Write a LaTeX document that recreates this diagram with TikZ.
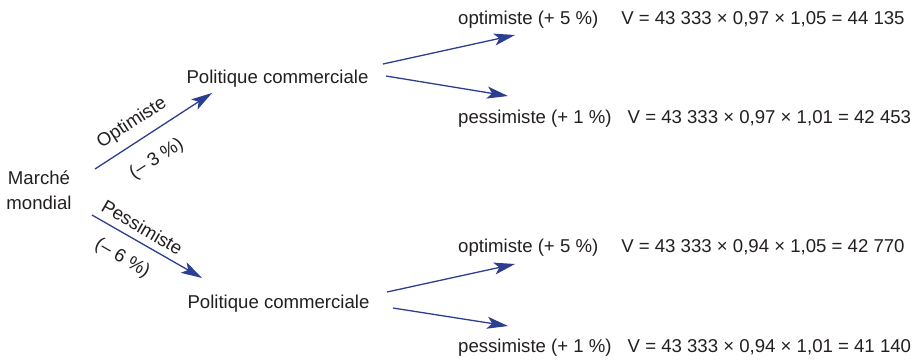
\documentclass[tikz,border=0pt]{standalone}
\usepackage{fontspec}
\setmainfont{Liberation Sans}
\usetikzlibrary{arrows.meta}
\definecolor{arrblue}{RGB}{44,62,145}
\definecolor{txt}{RGB}{35,31,32}
\tikzset{
  lbl/.style={inner sep=0pt, text=txt, font=\fontsize{18.6}{25}\selectfont},
  arr/.style={draw=arrblue, line width=1.3pt, -{Stealth[length=21pt,width=12pt,inset=5pt]}}
}
\begin{document}
\begin{tikzpicture}[x=1pt,y=-1pt]
\useasboundingbox (0,0) rectangle (917,360);
\node[lbl, align=center] (mm) at (39,190) {Marché\\mondial};
\node[lbl, anchor=base] (pol1) at (277.5,83) {Politique commerciale};
\node[lbl, anchor=base] (pol2) at (278.5,308) {Politique commerciale};
\node[lbl, anchor=base west] (o1) at (458,24.6) {optimiste (+ 5 \%)\hspace{23pt}V = 43 333 × 0,97 × 1,05 = 44 135};
\node[lbl, anchor=base west] (p1) at (458,123.6) {pessimiste (+ 1 \%)\hspace{16pt}V = 43 333 × 0,97 × 1,01 = 42 453};
\node[lbl, anchor=base west] (o2) at (458,252) {optimiste (+ 5 \%)\hspace{23pt}V = 43 333 × 0,94 × 1,05 = 42 770};
\node[lbl, anchor=base west] (p2) at (458,352.6) {pessimiste (+ 1 \%)\hspace{16pt}V = 43 333 × 0,94 × 1,01 = 41 140};
\draw[arr] ([shift={(56,-21)}]mm.center) -- ([shift={(-65.5,10)}]pol1.base);
\draw[arr] ([shift={(53,25)}]mm.center) -- ([shift={(-76.5,-30)}]pol2.base);
\draw[arr] ([shift={(105.5,-19)}]pol1.base) -- ([shift={(57,10.4)}]o1.base west);
\draw[arr] ([shift={(108.5,-7)}]pol1.base) -- ([shift={(50,-27.6)}]p1.base west);
\draw[arr] ([shift={(108.5,-16)}]pol2.base) -- ([shift={(57,12)}]o2.base west);
\draw[arr] ([shift={(114.5,0)}]pol2.base) -- ([shift={(50,-26.6)}]p2.base west);
\node[lbl, rotate=33] (lo) at (132,123) {Optimiste};
\node[lbl, rotate=33] (lo2) at (156.7,159) {(– 3 \%)};
\node[lbl, rotate=-30] (lp) at (142.3,227.3) {Pessimiste};
\node[lbl, rotate=-30] (lp2) at (122.3,258.3) {(– 6 \%)};
\end{tikzpicture}
\end{document}
